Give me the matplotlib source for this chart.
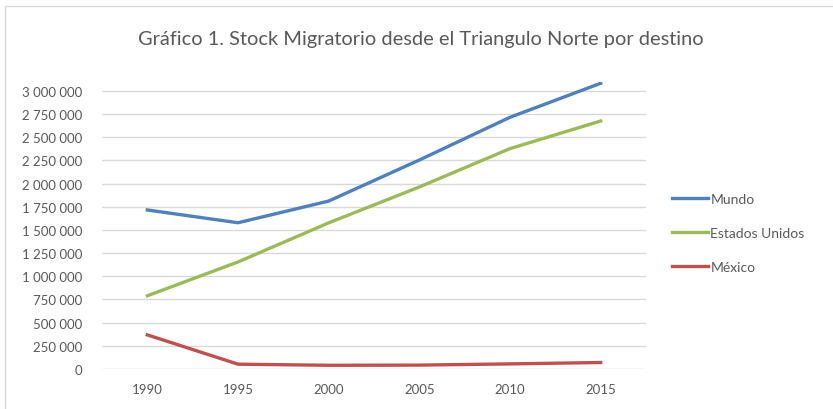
import matplotlib
matplotlib.use("Agg")
import matplotlib.pyplot as plt
from matplotlib.patches import Rectangle
from matplotlib.ticker import FuncFormatter

plt.rcParams['font.family'] = ['Lato', 'DejaVu Sans']

# datos
anios = ['1990', '1995', '2000', '2005', '2010', '2015']
mundo = [1716000, 1578000, 1812000, 2255000, 2716000, 3083000]
estados_unidos = [790000, 1155000, 1577000, 1964000, 2378000, 2676000]
mexico = [368000, 52000, 40000, 42000, 55000, 70000]
yticks = list(range(0, 3000001, 250000))

gris = '#595959'

fig = plt.figure(figsize=(8.33, 4.10), dpi=100)
# marco del grafico
fig.patches.append(Rectangle((5 / 833, -0.1), 1.2, (410 - 7) / 410 + 0.1,
                             transform=fig.transFigure, fill=False,
                             edgecolor='#d9d9d9', linewidth=1))

ax = fig.add_axes([102 / 833, 40 / 410, 544 / 833, (370 - 82.7) / 410])

x = range(len(anios))
ax.plot(x, mundo, color='#4F81BD', linewidth=2.4, label='Mundo')
ax.plot(x, estados_unidos, color='#9BBB59', linewidth=2.4, label='Estados Unidos')
ax.plot(x, mexico, color='#C0504D', linewidth=2.4, label='México')

ax.set_xlim(-0.5, len(anios) - 0.5)
ax.set_ylim(0, 3100000)
ax.set_xticks(list(x))
ax.set_xticklabels(anios)
ax.set_yticks(yticks)
ax.yaxis.set_major_formatter(FuncFormatter(lambda v, p: f'{int(v):,}'.replace(',', ' ')))
ax.grid(axis='y', color='#d9d9d9', linewidth=1)
ax.set_axisbelow(True)
for s in ax.spines.values():
    s.set_visible(False)
ax.tick_params(length=0, labelsize=9.5, colors=gris)
ax.tick_params(axis='y', pad=14)
ax.tick_params(axis='x', pad=10)

fig.text(421 / 833, 1 - 40 / 410, 'Gráfico 1. Stock Migratorio desde el Triangulo Norte por destino',
         ha='center', va='center', fontsize=14.4, color=gris)

ax.legend(loc='upper left', bbox_to_anchor=(1.024, 0.655), frameon=False,
          fontsize=10, handlelength=2.6, handletextpad=0.2, labelspacing=1.57,
          labelcolor=gris)

fig.savefig('out.png', dpi=100)
